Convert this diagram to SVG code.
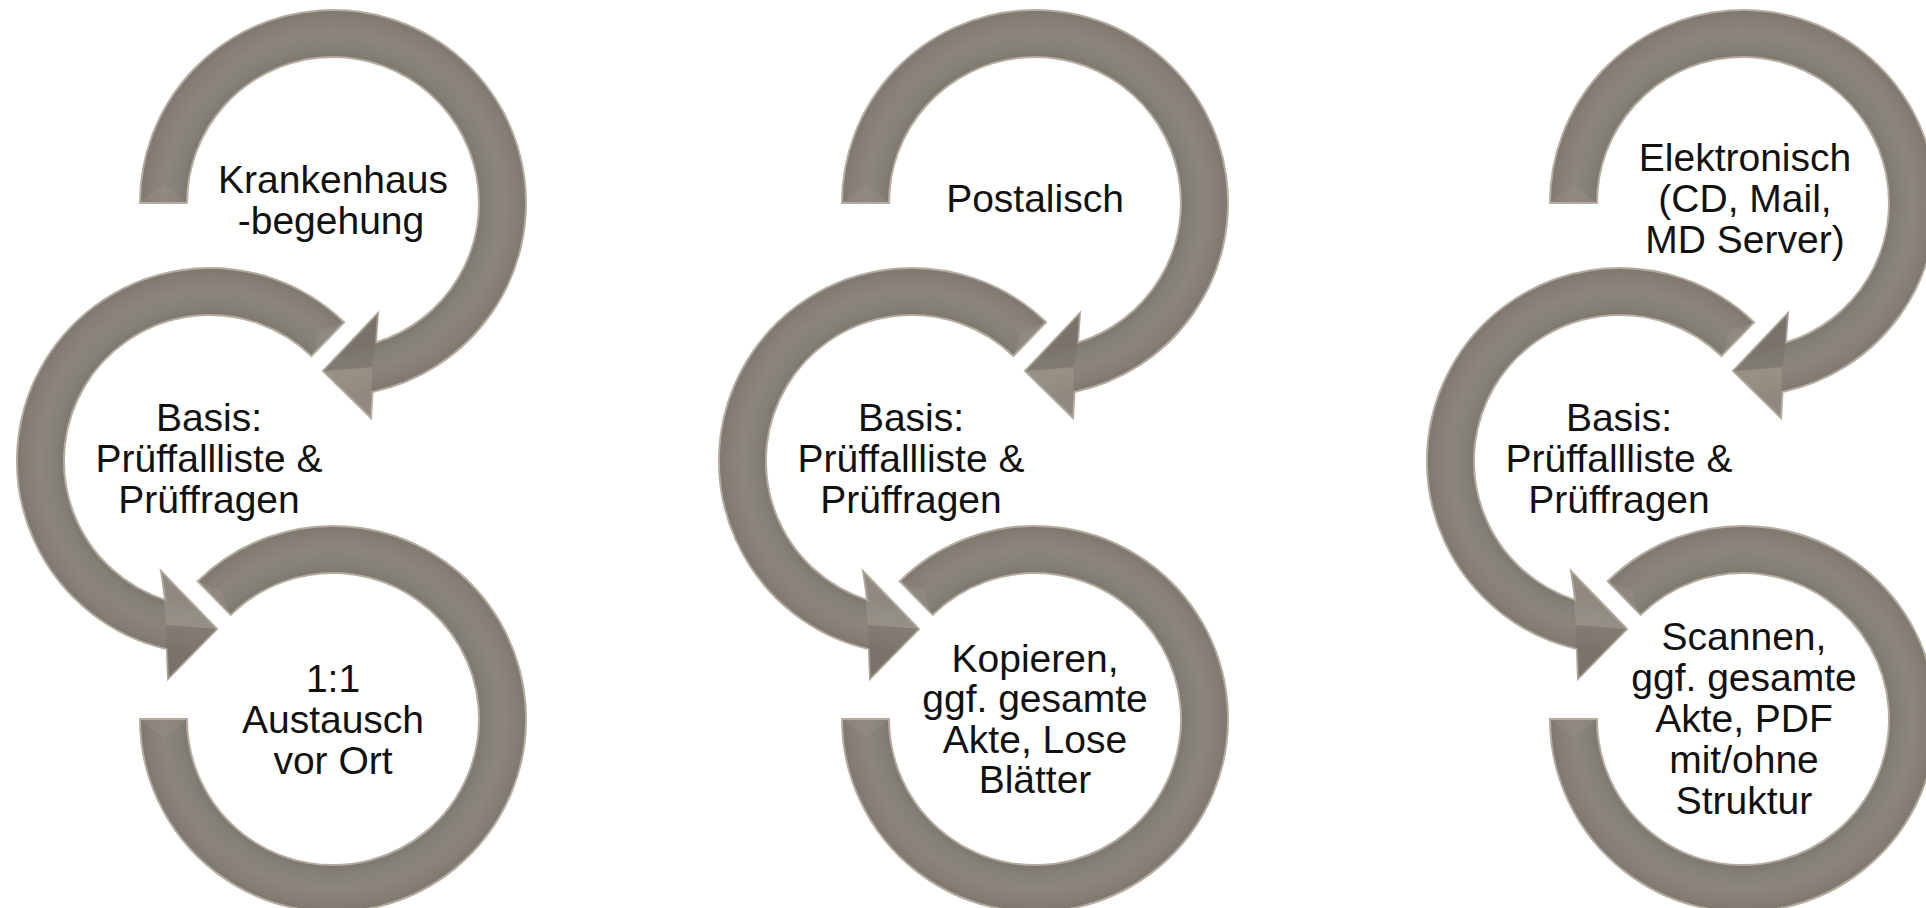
<svg xmlns="http://www.w3.org/2000/svg" xmlns:xlink="http://www.w3.org/1999/xlink" width="1926" height="908" viewBox="0 0 1926 908">
<style>
  .ring { stroke: #b4ac9f; stroke-width: 2; stroke-linejoin: miter; }
  .lite { fill: #a29b90; opacity: 0.5; }
  .tail { fill: #9c958a; opacity: 0.3; }
  .dark { fill: #6f6a62; opacity: 0.35; }
  .lbl { font-family: "Liberation Sans", Arial, Helvetica, sans-serif; font-size: 39px; fill: #111111; text-anchor: middle; }
</style>
<defs>
  <radialGradient id="g1" gradientUnits="userSpaceOnUse" cx="333" cy="203" r="193">
    <stop offset="0.756" stop-color="#7d776e"/>
    <stop offset="0.80" stop-color="#858077"/>
    <stop offset="0.88" stop-color="#8b857c"/>
    <stop offset="0.96" stop-color="#847e75"/>
    <stop offset="1" stop-color="#7d776e"/>
  </radialGradient>
  <radialGradient id="g2" gradientUnits="userSpaceOnUse" cx="210" cy="461" r="193">
    <stop offset="0.756" stop-color="#7d776e"/>
    <stop offset="0.80" stop-color="#858077"/>
    <stop offset="0.88" stop-color="#8b857c"/>
    <stop offset="0.96" stop-color="#847e75"/>
    <stop offset="1" stop-color="#7d776e"/>
  </radialGradient>
  <radialGradient id="g3" gradientUnits="userSpaceOnUse" cx="333" cy="719" r="193">
    <stop offset="0.756" stop-color="#7d776e"/>
    <stop offset="0.80" stop-color="#858077"/>
    <stop offset="0.88" stop-color="#8b857c"/>
    <stop offset="0.96" stop-color="#847e75"/>
    <stop offset="1" stop-color="#7d776e"/>
  </radialGradient>
  <g id="ring1">
    <path class="ring" fill="url(#g1)" d="M140,203 A193,193 0 1 1 372.5,391.9 L371,418 L323,371 L378,313 L375.9,342.5 A146,146 0 1 0 187,203 Z"/>
    <polygon class="lite" points="323,371 372,367 371,418"/>
    <polygon class="dark" points="323,371 378,313 375.9,342.5 372,367"/>
    <polygon class="tail" points="141,202 186,202 164,184"/>
  </g>
  <g id="ring2">
    <path class="ring" fill="url(#g2)" d="M344.1,322.2 A193,193 0 1 0 166.9,649.1 L168,679 L217,629 L161,571 L165.6,600.1 A146,146 0 1 1 311.4,356 Z"/>
    <polygon class="lite" points="217,629 166,625 161,571"/>
    <polygon class="dark" points="217,629 166,625 166.9,649.1 168,679"/>
    <polygon class="tail" points="343,323 312,355 320,330"/>
  </g>
  <g id="ring3">
    <path class="ring" fill="url(#g3)" d="M197.7,581.3 A193,193 0 1 1 140,719 L187,719 A146,146 0 1 0 230.7,614.9 Z"/>
    <polygon class="tail" points="199,582 229,614 222,590"/>
    <polygon class="tail" points="141,720 186,720 164,738"/>
  </g>
</defs>

<g id="connectors"></g>

<!-- Column 1 -->
<g id="node-krankenhaus">
  <use xlink:href="#ring1" href="#ring1"/>
  <text class="lbl" x="333" y="193">Krankenhaus</text>
  <text class="lbl" x="331" y="234">-begehung</text>
</g>
<g id="node-basis-1">
  <use xlink:href="#ring2" href="#ring2"/>
  <text class="lbl" x="209" y="431">Basis:</text>
  <text class="lbl" x="209" y="472">Prüffallliste &amp;</text>
  <text class="lbl" x="209" y="513">Prüffragen</text>
</g>
<g id="node-austausch">
  <use xlink:href="#ring3" href="#ring3"/>
  <text class="lbl" x="333" y="692">1:1</text>
  <text class="lbl" x="333" y="733">Austausch</text>
  <text class="lbl" x="333" y="774">vor Ort</text>
</g>

<!-- Column 2 -->
<g id="node-postalisch" transform="translate(702,0)">
  <use xlink:href="#ring1" href="#ring1"/>
  <text class="lbl" x="333" y="212">Postalisch</text>
</g>
<g id="node-basis-2" transform="translate(702,0)">
  <use xlink:href="#ring2" href="#ring2"/>
  <text class="lbl" x="209" y="431">Basis:</text>
  <text class="lbl" x="209" y="472">Prüffallliste &amp;</text>
  <text class="lbl" x="209" y="513">Prüffragen</text>
</g>
<g id="node-kopieren" transform="translate(702,0)">
  <use xlink:href="#ring3" href="#ring3"/>
  <text class="lbl" x="333" y="672">Kopieren,</text>
  <text class="lbl" x="333" y="712">ggf. gesamte</text>
  <text class="lbl" x="333" y="753">Akte, Lose</text>
  <text class="lbl" x="333" y="793">Blätter</text>
</g>

<!-- Column 3 -->
<g id="node-elektronisch" transform="translate(1410,0)">
  <use xlink:href="#ring1" href="#ring1"/>
  <text class="lbl" x="335" y="171">Elektronisch</text>
  <text class="lbl" x="335" y="212">(CD, Mail,</text>
  <text class="lbl" x="335" y="253">MD Server)</text>
</g>
<g id="node-basis-3" transform="translate(1410,0)">
  <use xlink:href="#ring2" href="#ring2"/>
  <text class="lbl" x="209" y="431">Basis:</text>
  <text class="lbl" x="209" y="472">Prüffallliste &amp;</text>
  <text class="lbl" x="209" y="513">Prüffragen</text>
</g>
<g id="node-scannen" transform="translate(1410,0)">
  <use xlink:href="#ring3" href="#ring3"/>
  <text class="lbl" x="334" y="650">Scannen,</text>
  <text class="lbl" x="334" y="691">ggf. gesamte</text>
  <text class="lbl" x="334" y="732">Akte, PDF</text>
  <text class="lbl" x="334" y="773">mit/ohne</text>
  <text class="lbl" x="334" y="814">Struktur</text>
</g>
</svg>
